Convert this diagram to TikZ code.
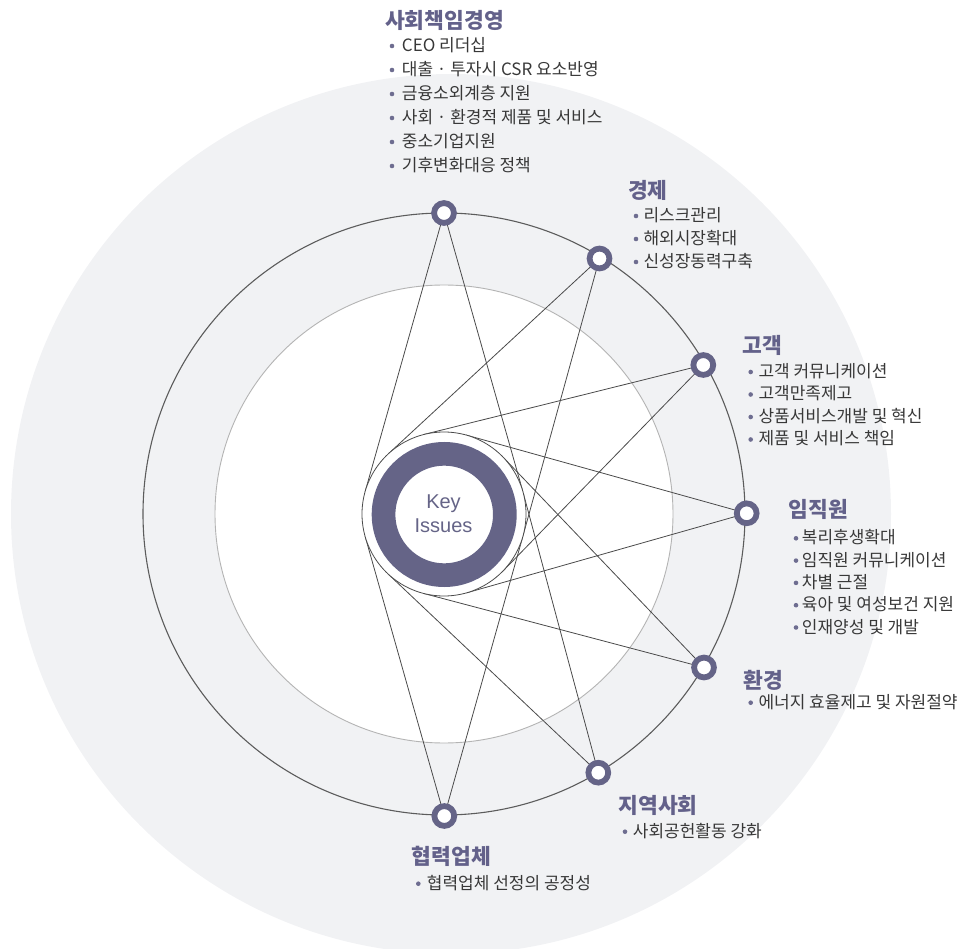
\documentclass[tikz,border=0pt]{standalone}
\usepackage{fontspec}
\newfontfamily\kr{Noto Sans CJK KR}
\newfontfamily\lat{Liberation Sans}
\definecolor{bgc}{HTML}{F1F2F4}
\definecolor{ringc}{HTML}{656487}
\definecolor{ttl}{HTML}{63618A}
\definecolor{txt}{HTML}{383838}
\definecolor{bul}{HTML}{6E6D90}
\definecolor{lnc}{HTML}{4A4A4A}
\definecolor{midc}{HTML}{5C5C5C}
\definecolor{inc}{HTML}{B4B4B4}
\tikzset{
  marker/.style={circle, draw=ringc, fill=white, line width=5.8pt, minimum size=19.8pt, inner sep=0pt},
  link/.style={draw=lnc, line width=0.8pt},
  ttlbox/.style={anchor=base west, inner sep=0pt, text=ttl, font=\kr\bfseries\fontsize{21.5}{22}\selectfont},
  itembox/.style={anchor=base west, inner sep=0pt, text=txt, font=\kr\fontsize{17}{18}\selectfont},
  dotbox/.style={circle, fill=bul, minimum size=4.6pt, inner sep=0pt},
  keytext/.style={anchor=base, inner sep=0pt, text=ringc, font=\lat\fontsize{20}{22}\selectfont}
}
\begin{document}
\begin{tikzpicture}[x=1pt,y=-1pt]
\useasboundingbox (0,0) rectangle (967,949);
% background circles
\fill[bgc] (451,514) circle (440);
\draw[inc, line width=0.9pt, fill=white] (444,514) circle (229);
\draw[midc, line width=1.1pt] (444,514) circle (301);
% marker positions
\coordinate (p1) at (444,213);
\coordinate (p2) at (599.5,258.5);
\coordinate (p3) at (703.3,365);
\coordinate (p4) at (746.7,513.3);
\coordinate (p5) at (704,667.5);
\coordinate (p6) at (598.3,772.7);
\coordinate (p7) at (444.3,816);
% tangent points
\coordinate (t1a) at (365.1,491.7);
\coordinate (t1b) at (522.9,491.7);
\coordinate (t2a) at (388.4,453.8);
\coordinate (t2b) at (523.0,535.8);
\coordinate (t3a) at (424.2,434.4);
\coordinate (t3b) at (502.8,571.2);
\coordinate (t4a) at (466.0,435.0);
\coordinate (t4b) at (466.4,592.9);
\coordinate (t5a) at (503.3,457.4);
\coordinate (t5b) at (423.1,593.3);
\coordinate (t6a) at (523.2,492.8);
\coordinate (t6b) at (387.7,573.6);
\coordinate (t7a) at (522.9,536.3);
\coordinate (t7b) at (365.1,536.3);
% connectors
\foreach \i in {1,...,7}{
  \draw[link] (p\i) -- (t\i a);
  \draw[link] (p\i) -- (t\i b);
}
% key issues
\draw[lnc, line width=0.8pt, fill=white] (444,514) circle (82);
\node[circle, draw=ringc, line width=23.7pt, minimum size=121.3pt, inner sep=0pt] (key) at (444.2,514.5) {};
\node[keytext] (k1) at (443.5,508.3) {Key};
\node[keytext] (k2) at (443.5,532) {Issues};
% markers
\foreach \i in {1,...,7}{
  \node[marker] (m\i) at (p\i) {};
}
% group 1
\node[ttlbox] (g1) at (385,28.2) {사회책임경영};
\foreach \t [count=\k from 0] in {CEO 리더십, 대출 · 투자시 CSR 요소반영, 금융소외계층 지원, 사회 · 환경적 제품 및 서비스, 중소기업지원, 기후변화대응 정책}{
  \node[dotbox] (d1\k) at (392,46+24*\k) {};
  \node[itembox] (i1\k) at (401.7,51.5+24*\k) {\t};
}
% group 2
\node[ttlbox] (g2) at (628,198.2) {경제};
\foreach \t [count=\k from 0] in {리스크관리, 해외시장확대, 신성장동력구축}{
  \node[dotbox] (d2\k) at (636,216+23*\k) {};
  \node[itembox] (i2\k) at (643.3,221.5+23*\k) {\t};
}
% group 3
\node[ttlbox] (g3) at (742.7,353.2) {고객};
\foreach \t [count=\k from 0] in {고객 커뮤니케이션, 고객만족제고, 상품서비스개발 및 혁신, 제품 및 서비스 책임}{
  \node[dotbox] (d3\k) at (750.7,372+22.5*\k) {};
  \node[itembox] (i3\k) at (758.3,377.5+22.5*\k) {\t};
}
% group 4
\node[ttlbox] (g4) at (788.3,517.5) {임직원};
\foreach \t [count=\k from 0] in {복리후생확대, 임직원 커뮤니케이션, 차별 근절, 육아 및 여성보건 지원, 인재양성 및 개발}{
  \node[dotbox] (d4\k) at (796,538.3+22.3*\k) {};
  \node[itembox] (i4\k) at (801.7,543.8+22.3*\k) {\t};
}
% group 5
\node[ttlbox] (g5) at (743.3,688.2) {환경};
\node[dotbox] (d50) at (750.7,702.7) {};
\node[itembox] (i50) at (758.3,708.2) {에너지 효율제고 및 자원절약};
% group 6
\node[ttlbox] (g6) at (618.3,813.2) {지역사회};
\node[dotbox] (d60) at (625,831.7) {};
\node[itembox] (i60) at (632.7,837.2) {사회공헌활동 강화};
% group 7
\node[ttlbox] (g7) at (411.7,864.9) {협력업체};
\node[dotbox] (d70) at (418.3,883.7) {};
\node[itembox] (i70) at (426.7,889.2) {협력업체 선정의 공정성};
\end{tikzpicture}
\end{document}
